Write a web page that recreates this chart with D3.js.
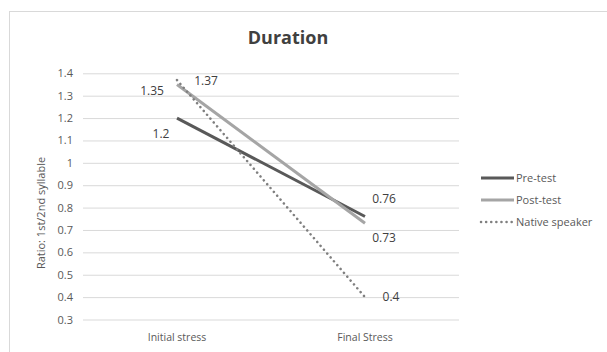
<!DOCTYPE html>
<html><head><meta charset="utf-8">
<script src="https://cdn.jsdelivr.net/npm/d3@7/dist/d3.min.js"></script>
<style>body{margin:0;background:#fff;} text{font-family:"Open Sans","Liberation Sans",sans-serif;}</style>
</head><body>
<svg id="c" width="607" height="352"></svg>
<script>
const categories = ["Initial stress", "Final Stress"];
const seriesNames = ["Pre-test", "Post-test", "Native speaker"];
const preTest = [1.2, 0.76];
const postTest = [1.35, 0.73];
const nativeSpeaker = [1.37, 0.4];
const yTicks = [0.3,0.4,0.5,0.6,0.7,0.8,0.9,1,1.1,1.2,1.3,1.4];

const svg = d3.select("#c");
svg.append("rect").attr("x",9.5).attr("y",11.5).attr("width",620).attr("height",360)
  .attr("fill","#fff").attr("stroke","#d9d9d9");

const x = d3.scaleBand().domain(categories).range([83,459]);
const y = d3.scaleLinear().domain([0.3,1.4]).range([319.5,73.3]);
const cx = c => x(c) + x.bandwidth()/2;

svg.append("text").attr("x",288).attr("y",44).attr("text-anchor","middle")
  .attr("font-size",18).attr("font-weight","bold").attr("fill","#404040").text("Duration");

const yAxis = svg.append("g").attr("transform","translate(83,0)")
  .call(d3.axisLeft(y).tickValues(yTicks).tickSize(-376).tickFormat(d3.format("")));
yAxis.select(".domain").remove();
yAxis.selectAll(".tick line").attr("stroke","#d9d9d9");
yAxis.selectAll(".tick text").attr("x",-10).attr("fill","#595959").attr("font-size",11)
  .style("font-family","'Open Sans',sans-serif");

const xAxis = svg.append("g").attr("transform","translate(0,319.5)")
  .call(d3.axisBottom(x).tickSize(0));
xAxis.select(".domain").remove();
xAxis.selectAll(".tick text").attr("dy",18).attr("fill","#595959").attr("font-size",10.5)
  .style("font-family","'Open Sans',sans-serif");

svg.append("text").attr("transform","translate(45,213) rotate(-90)").attr("text-anchor","middle")
  .attr("font-size",11).attr("fill","#595959").text("Ratio: 1st/2nd syllable");

const series = [
  {name:seriesNames[0], vals:preTest, color:"#595959", w:3, dash:null},
  {name:seriesNames[1], vals:postTest, color:"#a5a5a5", w:3, dash:null},
  {name:seriesNames[2], vals:nativeSpeaker, color:"#7f7f7f", w:2.5, dash:"0.1 5"}
];
const line = d3.line().x((d,i)=>cx(categories[i])).y(d=>y(d));
series.forEach(s=>{
  svg.append("path").datum(s.vals).attr("d",line).attr("fill","none")
    .attr("stroke",s.color).attr("stroke-width",s.w)
    .attr("stroke-linecap", s.dash ? "round" : "butt")
    .attr("stroke-dasharray",s.dash);
});

// data labels
const labelOffsets = [
  [[-16,16],[19,-18]],
  [[-25,7],[19,15]],
  [[29,1],[26,0]]
];
series.forEach((s,si)=>{
  s.vals.forEach((v,i)=>{
    const [dx,dy] = labelOffsets[si][i];
    svg.append("text").attr("x",cx(categories[i])+dx).attr("y",y(v)+dy+4)
      .attr("text-anchor","middle").attr("font-size",12).attr("fill","#404040").text(v);
  });
});

// legend
const lg = svg.append("g");
series.forEach((s,i)=>{
  const ly = 178 + i*22;
  lg.append("line").attr("x1",481).attr("x2",514).attr("y1",ly).attr("y2",ly)
    .attr("stroke",s.color).attr("stroke-width",s.w)
    .attr("stroke-linecap", s.dash ? "round" : "butt").attr("stroke-dasharray",s.dash);
  lg.append("text").attr("x",516).attr("y",ly+4).attr("font-size",11).attr("fill","#595959").text(s.name);
});
</script>
</body></html>
